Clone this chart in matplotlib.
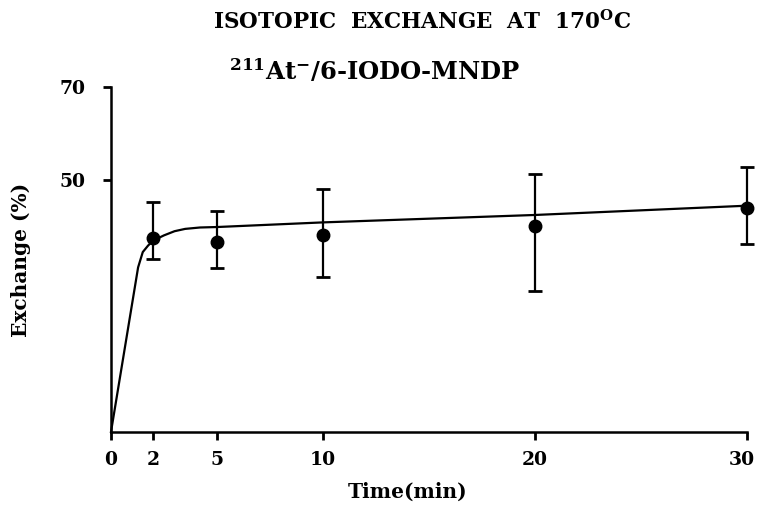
import numpy as np
import matplotlib.pyplot as plt
import matplotlib.transforms as mtransforms

plt.rcParams['font.family'] = 'DejaVu Serif'
plt.rcParams['font.weight'] = 'bold'
plt.rcParams['mathtext.fontset'] = 'dejavuserif'

# measured exchange (%) with error bars
time_min = [2, 5, 10, 20, 30]
exchange = [37.5, 36.5, 38.0, 40.0, 43.8]
err_low = [4.7, 5.5, 9.0, 13.9, 7.6]
err_high = [7.8, 6.7, 10.0, 11.2, 8.9]

# hand-drawn trend curve
curve_t = [0, 1.28, 1.5, 1.75, 2.0, 2.5, 3.0, 3.5, 4.2, 5, 10, 20, 30]
curve_y = [-4.4, 31.1, 34.4, 35.8, 36.9, 38.0, 38.9, 39.4, 39.7, 39.8, 40.8, 42.4, 44.4]

xticks = [0, 2, 5, 10, 20, 30]
yticks = [50, 70]

fig = plt.figure(figsize=(7.58, 5.09), dpi=100)
ax = fig.add_axes([0.1464, 0.1513, 0.839, 0.6778])

ax.plot(curve_t, curve_y, color='black', lw=1.6, clip_on=False)
eb = ax.errorbar(time_min, exchange, yerr=[err_low, err_high], fmt='o', color='black',
                 ms=9, elinewidth=1.6, capsize=5, capthick=2)
for art in [eb[0], *eb[1], *eb[2]]:
    art.set_clip_on(False)

ax.set_xlim(0, 30)
ax.set_ylim(-4.4, 70)
ax.set_xticks(xticks)
ax.set_yticks(yticks)
ax.tick_params(labelsize=13.5, width=2, length=6, direction='out')
ax.tick_params(axis='x', pad=8)
ax.tick_params(axis='y', pad=12)
for lab in ax.get_xticklabels() + ax.get_yticklabels():
    lab.set_fontweight('bold')

# nudge the last x label so it stays inside the figure
last = ax.get_xticklabels()[-1]
last.set_transform(last.get_transform() +
                   mtransforms.ScaledTranslation(-4 / 72, 0, fig.dpi_scale_trans))

for s in ['top', 'right']:
    ax.spines[s].set_visible(False)
for s in ['left', 'bottom']:
    ax.spines[s].set_linewidth(1.8)

ax.set_xlabel('Time(min)', fontsize=14.5, fontweight='bold')
ax.set_ylabel('Exchange (%)', fontsize=14.5, fontweight='bold')
ax.xaxis.set_label_coords(0.467, -0.145)
ax.yaxis.set_label_coords(-0.125, 0.5)

fig.text(0.557, 0.943, r'ISOTOPIC  EXCHANGE  AT  170$^{\mathbf{O}}$C', ha='center',
         va='baseline', fontsize=15.5, fontweight='bold')
fig.text(0.494, 0.843, r'$\mathbf{^{211}At^{-}/}$6-IODO-MNDP', ha='center', va='baseline',
         fontsize=17.5, fontweight='bold')

fig.savefig('out.png', dpi=100)
